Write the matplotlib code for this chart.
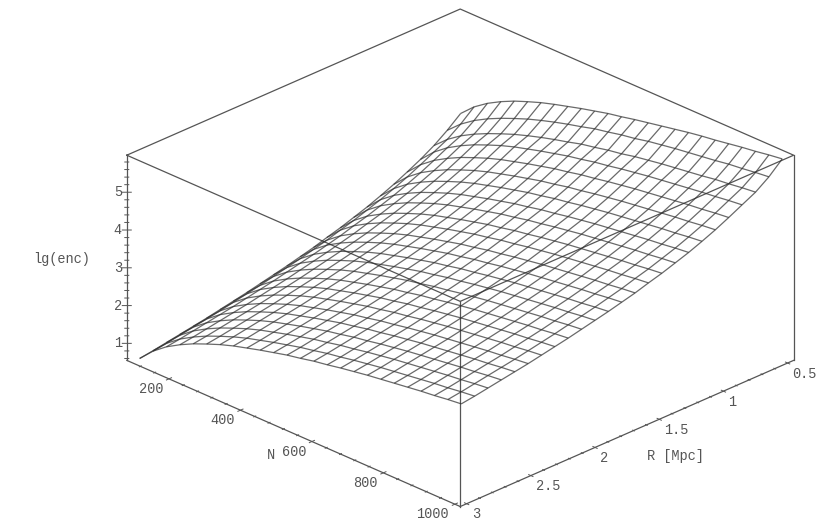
# lg(enc) surface over N and R
import numpy as np
import matplotlib
matplotlib.use('Agg')
import matplotlib.pyplot as plt
from mpl_toolkits.mplot3d import proj3d

N_vals = [100, 137.5, 175, 212.5, 250, 287.5, 325, 362.5, 400, 437.5, 475, 512.5, 550,
          587.5, 625, 662.5, 700, 737.5, 775, 812.5, 850, 887.5, 925, 962.5, 1000]
R_vals = [0.5, 0.604, 0.708, 0.813, 0.917, 1.021, 1.125, 1.229, 1.333, 1.438, 1.542, 1.646, 1.75,
          1.854, 1.958, 2.063, 2.167, 2.271, 2.375, 2.479, 2.583, 2.688, 2.792, 2.896, 3.0]

# one row per R, one column per N
lg_enc = [
    [3.36,3.69,3.94,4.14,4.31,4.45,4.58,4.69,4.79,4.89,4.98,5.07,5.14,5.22,5.29,5.36,5.43,5.50,5.56,5.61,5.67,5.73,5.78,5.84,5.89],
    [3.07,3.39,3.64,3.84,4.01,4.16,4.30,4.42,4.53,4.63,4.72,4.82,4.89,4.97,5.03,5.11,5.17,5.23,5.28,5.33,5.38,5.44,5.48,5.53,5.57],
    [2.82,3.14,3.39,3.59,3.76,3.91,4.05,4.17,4.28,4.38,4.47,4.57,4.64,4.72,4.78,4.86,4.92,4.98,5.03,5.08,5.13,5.19,5.23,5.28,5.32],
    [2.61,2.96,3.23,3.44,3.62,3.77,3.91,4.03,4.13,4.23,4.32,4.41,4.48,4.56,4.62,4.69,4.75,4.81,4.86,4.91,4.96,5.01,5.05,5.10,5.14],
    [2.43,2.78,3.05,3.26,3.44,3.59,3.73,3.85,3.95,4.05,4.14,4.23,4.30,4.38,4.44,4.51,4.57,4.63,4.68,4.73,4.78,4.83,4.87,4.92,4.96],
    [2.26,2.61,2.88,3.09,3.27,3.42,3.56,3.68,3.78,3.88,3.97,4.06,4.13,4.21,4.27,4.34,4.40,4.46,4.51,4.56,4.61,4.66,4.70,4.75,4.79],
    [2.11,2.46,2.73,2.94,3.12,3.27,3.41,3.53,3.63,3.73,3.82,3.91,3.98,4.06,4.12,4.19,4.25,4.31,4.36,4.41,4.46,4.51,4.55,4.60,4.64],
    [1.97,2.32,2.59,2.80,2.98,3.13,3.27,3.39,3.49,3.59,3.68,3.77,3.84,3.92,3.98,4.05,4.11,4.17,4.22,4.27,4.32,4.37,4.41,4.46,4.50],
    [1.85,2.20,2.47,2.68,2.86,3.01,3.15,3.27,3.37,3.47,3.56,3.65,3.72,3.80,3.86,3.93,3.99,4.05,4.10,4.15,4.20,4.25,4.29,4.34,4.38],
    [1.73,2.08,2.35,2.56,2.74,2.89,3.03,3.15,3.25,3.35,3.44,3.53,3.60,3.68,3.74,3.81,3.87,3.93,3.98,4.03,4.08,4.13,4.17,4.22,4.26],
    [1.63,1.98,2.25,2.46,2.64,2.79,2.93,3.05,3.15,3.25,3.34,3.43,3.50,3.58,3.64,3.71,3.77,3.83,3.88,3.93,3.98,4.03,4.07,4.12,4.16],
    [1.52,1.87,2.14,2.35,2.53,2.68,2.82,2.94,3.04,3.14,3.23,3.32,3.39,3.47,3.53,3.60,3.66,3.72,3.77,3.82,3.87,3.92,3.96,4.01,4.05],
    [1.43,1.78,2.05,2.26,2.44,2.59,2.73,2.85,2.95,3.05,3.14,3.23,3.30,3.38,3.44,3.51,3.57,3.63,3.68,3.73,3.78,3.83,3.87,3.92,3.96],
    [1.34,1.69,1.96,2.17,2.35,2.50,2.64,2.76,2.86,2.96,3.05,3.14,3.21,3.29,3.35,3.42,3.48,3.54,3.59,3.64,3.69,3.74,3.78,3.83,3.87],
    [1.26,1.61,1.88,2.09,2.27,2.42,2.56,2.68,2.78,2.88,2.97,3.06,3.13,3.21,3.27,3.34,3.40,3.46,3.51,3.56,3.61,3.66,3.70,3.75,3.79],
    [1.18,1.53,1.80,2.01,2.19,2.34,2.48,2.60,2.70,2.80,2.89,2.98,3.05,3.13,3.19,3.26,3.32,3.38,3.43,3.48,3.53,3.58,3.62,3.67,3.71],
    [1.10,1.45,1.72,1.93,2.11,2.26,2.40,2.52,2.62,2.72,2.81,2.90,2.97,3.05,3.11,3.18,3.24,3.30,3.35,3.40,3.45,3.50,3.54,3.59,3.63],
    [1.03,1.38,1.65,1.86,2.04,2.19,2.33,2.45,2.55,2.65,2.74,2.83,2.90,2.98,3.04,3.11,3.17,3.23,3.28,3.33,3.38,3.43,3.47,3.52,3.56],
    [0.96,1.31,1.58,1.79,1.97,2.12,2.26,2.38,2.48,2.58,2.67,2.76,2.83,2.91,2.97,3.04,3.10,3.16,3.21,3.26,3.31,3.36,3.40,3.45,3.49],
    [0.89,1.24,1.51,1.72,1.90,2.05,2.19,2.31,2.41,2.51,2.60,2.69,2.76,2.84,2.90,2.97,3.03,3.09,3.14,3.19,3.24,3.29,3.33,3.38,3.42],
    [0.83,1.18,1.45,1.66,1.84,1.99,2.13,2.25,2.35,2.45,2.54,2.63,2.70,2.78,2.84,2.91,2.97,3.03,3.08,3.13,3.18,3.23,3.27,3.32,3.36],
    [0.77,1.12,1.39,1.60,1.78,1.93,2.07,2.19,2.29,2.39,2.48,2.57,2.64,2.72,2.78,2.85,2.91,2.97,3.02,3.07,3.12,3.17,3.21,3.26,3.30],
    [0.71,1.06,1.33,1.54,1.72,1.87,2.01,2.13,2.23,2.33,2.42,2.51,2.58,2.66,2.72,2.79,2.85,2.91,2.96,3.01,3.06,3.11,3.15,3.20,3.24],
    [0.65,1.00,1.27,1.48,1.66,1.81,1.95,2.07,2.17,2.27,2.36,2.45,2.52,2.60,2.66,2.73,2.79,2.85,2.90,2.95,3.00,3.05,3.09,3.14,3.18],
    [0.60,0.95,1.22,1.43,1.61,1.76,1.90,2.02,2.12,2.22,2.31,2.40,2.47,2.55,2.61,2.68,2.74,2.80,2.85,2.90,2.95,3.00,3.04,3.09,3.13],
]

N_lim = (82, 1015)
R_lim = (0.453, 3.05)
Z_lim = (0.55, 5.98)

Z_ticks = [1, 2, 3, 4, 5]
N_ticks = [200, 400, 600, 800, 1000]
R_ticks = [0.5, 1, 1.5, 2, 2.5, 3]
R_tick_labels = ['0.5', '1', '1.5', '2', '2.5', '3']

line_col = '#555555'
text_col = '#555555'
plt.rcParams['font.family'] = ['Liberation Mono', 'DejaVu Sans Mono']
plt.rcParams['font.size'] = 9.8

fig = plt.figure(figsize=(8.3, 5.25), dpi=100)
# square axes bigger than the figure, centre sits on the middle of the box
ax = fig.add_axes([34 / 830, -159 / 525, 1, 830 / 525], projection='3d')
ax.set_proj_type('ortho')
ax.view_init(elev=26, azim=45)
ax.set_box_aspect((471, 471, 228), zoom=0.8244)
ax.set_xlim(*R_lim)
ax.set_ylim(*N_lim)
ax.set_zlim(*Z_lim)
ax.set_axis_off()

R_grid, N_grid = np.meshgrid(R_vals, N_vals, indexing='ij')
ax.plot_wireframe(R_grid, N_grid, np.array(lg_enc), rstride=1, cstride=1,
                  color='#303030', linewidth=0.9, alpha=0.72)

r0, r1 = R_lim
n0, n1 = N_lim
z0, z1 = Z_lim

def seg(rs, ns, zs, lw=0.9):
    ax.plot(rs, ns, zs, color=line_col, linewidth=lw)

# box, the back bottom edges and the back vertical are left out
seg([r1, r0, r0, r1, r1], [n0, n0, n1, n1, n0], [z1, z1, z1, z1, z1])
seg([r1, r1], [n0, n0], [z0, z1])
seg([r0, r0], [n1, n1], [z0, z1])
seg([r1, r1], [n1, n1], [z0, z1])
seg([r1, r1], [n0, n1], [z0, z0])
seg([r1, r0], [n1, n1], [z0, z0])

# ticks
for z in np.arange(0.6, 5.9, 0.2):
    big = min(abs(z - t) for t in Z_ticks) < 0.01
    d = 4.5 if big else 2
    seg([r1 + d * 0.0039, r1 - d * 0.0039], [n0 - d * 1.4, n0 + d * 1.4], [z, z], 0.7)
for n in np.arange(120, 1001, 40):
    d = 0.02 if n in N_ticks else 0.008
    seg([r1 - d, r1 + d], [n, n], [z0, z0], 0.7)
for r in np.arange(0.5, 3.01, 0.1):
    d = 6 if min(abs(r - t) for t in R_ticks) < 0.01 else 2.5
    seg([r, r], [n1 - d, n1 + d], [z0, z0], 0.7)

def label(r, n, z, txt, dx, dy, ha):
    xp, yp, _ = proj3d.proj_transform(r, n, z, ax.get_proj())
    ax.annotate(txt, xy=(xp, yp), xytext=(dx, -dy), textcoords='offset pixels',
                ha=ha, va='center', color=text_col, annotation_clip=False)

for z in Z_ticks:
    label(r1, n0, z, str(z), -9, 0, 'center')
for n in N_ticks:
    label(r1, n, z0, str(n), -6, 10, 'right')
for r, txt in zip(R_ticks, R_tick_labels):
    label(r, n1, z0, txt, 5, 10.5, 'left')

fig.text(62 / 830, 1 - 259 / 525, 'lg(enc)', ha='center', va='center', color=text_col)
fig.text(271 / 830, 1 - 455 / 525, 'N', ha='center', va='center', color=text_col)
fig.text(675 / 830, 1 - 456 / 525, 'R [Mpc]', ha='center', va='center', color=text_col)

fig.savefig('out.png', dpi=100)
